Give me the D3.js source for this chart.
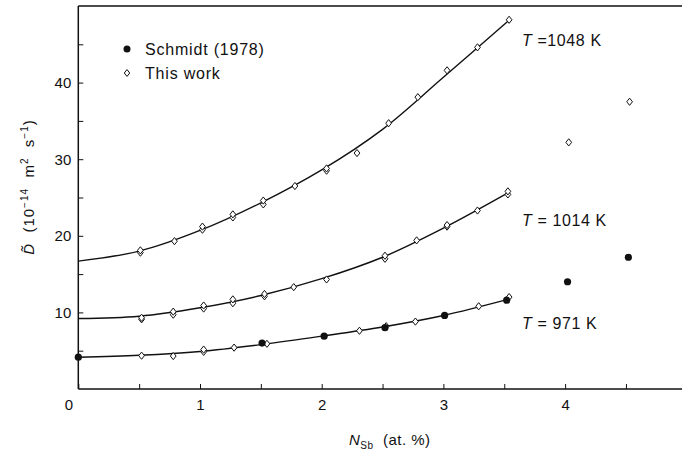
<!DOCTYPE html>
<html>
<head>
<meta charset="utf-8">
<script src="https://cdn.jsdelivr.net/npm/d3@7"></script>
<style>
  html, body { margin: 0; padding: 0; background: #fff; }
  svg { display: block; }
  text { font-family: "Liberation Sans", Arial, sans-serif; fill: #111; }
</style>
</head>
<body>
<svg id="chart" width="682" height="459"></svg>
<script>
// ---------- data ----------
const xTicksMajor = [0, 1, 2, 3, 4];
const xTicksMinor = [0.5, 1.5, 2.5, 3.5, 4.5];
const yTicksMajor = [10, 20, 30, 40];
const yTicksMinor = [5, 15, 25, 35, 45];

// fitted curves
const curveX    = [0, 0.5, 1, 1.5, 2, 2.5, 3, 3.53];
const curve1048 = [16.7, 18.0, 20.7, 24.3, 28.6, 33.9, 40.7, 48.0];
const curve1014 = [9.2, 9.5, 10.6, 12.2, 14.4, 17.2, 21.0, 25.6];
const curve971  = [4.15, 4.4, 4.9, 5.8, 6.9, 8.1, 9.6, 11.7];

// This work (open diamonds)
const work1048 = [[0.51,17.8],[0.51,18.1],[0.79,19.3],[1.02,20.8],[1.02,21.2],[1.27,22.4],[1.27,22.8],
  [1.52,24.1],[1.52,24.6],[1.78,26.5],[2.04,28.5],[2.04,28.8],[2.29,30.8],[2.55,34.7],[2.79,38.1],
  [3.03,41.6],[3.28,44.6],[3.54,48.2],[4.03,32.2],[4.53,37.5]];
const work1014 = [[0.52,9.1],[0.52,9.3],[0.78,9.7],[0.78,10.1],[1.03,10.5],[1.03,10.9],[1.27,11.2],[1.27,11.7],
  [1.53,12.1],[1.53,12.4],[1.77,13.3],[2.04,14.3],[2.52,17.0],[2.52,17.4],[2.78,19.4],[3.03,21.2],
  [3.03,21.4],[3.28,23.3],[3.53,25.4],[3.53,25.8]];
const work971 = [[0.52,4.35],[0.78,4.3],[1.03,4.85],[1.03,5.15],[1.28,5.4],[1.55,5.9],[2.31,7.6],
  [2.53,8.2],[2.77,8.8],[3.29,10.8],[3.54,12.0]];
// Schmidt (1978) (filled circles)
const schmidt971 = [[0.0,4.15],[1.51,6.0],[2.02,6.9],[2.52,8.0],[3.01,9.6],[3.52,11.6],[4.02,14.0],[4.52,17.2]];

const tempLabels = [
  {t: "1048", gap: " =", y: 45.5},
  {t: "1014", gap: " = ", y: 22},
  {t: "971",  gap: " = ", y: 8.6}
];

// ---------- drawing ----------
const svg = d3.select("#chart");
const x = d3.scaleLinear().domain([0, 5]).range([78.3, 686.8]);
const y = d3.scaleLinear().domain([0, 50]).range([389, 6]);

const ink = "#111";

// frame lines (left, top)
svg.append("line").attr("x1", x(0)).attr("x2", x(0)).attr("y1", y(0)).attr("y2", y(50))
  .attr("stroke", ink).attr("stroke-width", 1.5);
svg.append("line").attr("x1", x(0)).attr("x2", 682).attr("y1", y(50)).attr("y2", y(50))
  .attr("stroke", ink).attr("stroke-width", 1.5);

// x axis
const xAxis = d3.axisBottom(x)
  .tickValues(xTicksMajor.concat(xTicksMinor).sort((a, b) => a - b))
  .tickSizeInner(-5).tickSizeOuter(0).tickPadding(10)
  .tickFormat(d => Number.isInteger(d) ? d3.format("d")(d) : "");
const gx = svg.append("g").attr("transform", `translate(0,${y(0)})`).call(xAxis);
gx.select(".domain").attr("stroke", ink).attr("stroke-width", 1.5).attr("d", `M${x(0)},0H682`);
gx.selectAll(".tick line").attr("stroke", ink).attr("stroke-width", 1);
gx.selectAll(".tick text").attr("font-size", 15).attr("fill", ink)
  .attr("dx", d => d === 0 ? -10 : 0);

// y axis
const yAxis = d3.axisLeft(y)
  .tickValues(yTicksMajor.concat(yTicksMinor).sort((a, b) => a - b))
  .tickSizeInner(-5).tickSizeOuter(0).tickPadding(7)
  .tickFormat(d => yTicksMajor.includes(d) ? d3.format("d")(d) : "");
const gy = svg.append("g").attr("transform", `translate(${x(0)},0)`).call(yAxis);
gy.select(".domain").remove();
gy.selectAll(".tick line").attr("stroke", ink).attr("stroke-width", 1);
gy.selectAll(".tick text").attr("font-size", 15).attr("fill", ink);

// curves
const line = d3.line().x(d => x(d[0])).y(d => y(d[1])).curve(d3.curveCatmullRom.alpha(0.5));
[curve1048, curve1014, curve971].forEach(c => {
  svg.append("path").datum(curveX.map((v, i) => [v, c[i]]))
    .attr("d", line).attr("fill", "none").attr("stroke", ink).attr("stroke-width", 1.4);
});

// diamonds
const diamond = (cx, cy, r) => `M${cx},${cy - r}L${cx + r * 0.8},${cy}L${cx},${cy + r}L${cx - r * 0.8},${cy}Z`;
[work1048, work1014, work971].forEach(arr => {
  svg.append("g").selectAll("path").data(arr).join("path")
    .attr("d", d => diamond(x(d[0]), y(d[1]), 3.6))
    .attr("fill", "#fff").attr("stroke", ink).attr("stroke-width", 1);
});
// filled circles
svg.append("g").selectAll("circle").data(schmidt971).join("circle")
  .attr("cx", d => x(d[0])).attr("cy", d => y(d[1])).attr("r", 3.6).attr("fill", ink);

// legend
svg.append("circle").attr("cx", 127).attr("cy", 49).attr("r", 3.5).attr("fill", ink);
svg.append("path").attr("d", diamond(127, 73, 3.4)).attr("fill", "#fff").attr("stroke", ink).attr("stroke-width", 1);
svg.append("text").attr("x", 145).attr("y", 55).attr("font-size", 16).attr("letter-spacing", 0.8).text("Schmidt (1978)");
svg.append("text").attr("x", 145).attr("y", 79).attr("font-size", 16).attr("letter-spacing", 0.8).text("This work");

// temperature labels
tempLabels.forEach(l => {
  const t = svg.append("text").attr("x", 522).attr("y", y(l.y) + 6).attr("font-size", 16)
    .attr("letter-spacing", 0.6).attr("xml:space", "preserve");
  t.append("tspan").attr("font-style", "italic").text("T");
  t.append("tspan").text(l.gap + l.t + " K");
});

// x axis title
const xt = svg.append("text").attr("x", 349).attr("y", 445).attr("font-size", 15)
  .attr("letter-spacing", 0.5).attr("xml:space", "preserve");
xt.append("tspan").attr("font-style", "italic").text("N");
xt.append("tspan").attr("font-size", 10).attr("dy", 4).text("Sb");
xt.append("tspan").attr("dy", -4).text("  (at. %)");

// y axis title
const yt = svg.append("text").attr("transform", "translate(34,187) rotate(-90)")
  .attr("text-anchor", "middle").attr("font-size", 15).attr("letter-spacing", 1)
  .attr("xml:space", "preserve");
yt.append("tspan").attr("font-style", "italic").text("D\u0303");
yt.append("tspan").text("  (10");
yt.append("tspan").attr("font-size", 10).attr("dy", -6).text("\u221214");
yt.append("tspan").attr("dy", 6).text("  m");
yt.append("tspan").attr("font-size", 10).attr("dy", -6).text("2");
yt.append("tspan").attr("dy", 6).text("  s");
yt.append("tspan").attr("font-size", 10).attr("dy", -6).text("\u22121");
yt.append("tspan").attr("dy", 6).text(")");
</script>
</body>
</html>
